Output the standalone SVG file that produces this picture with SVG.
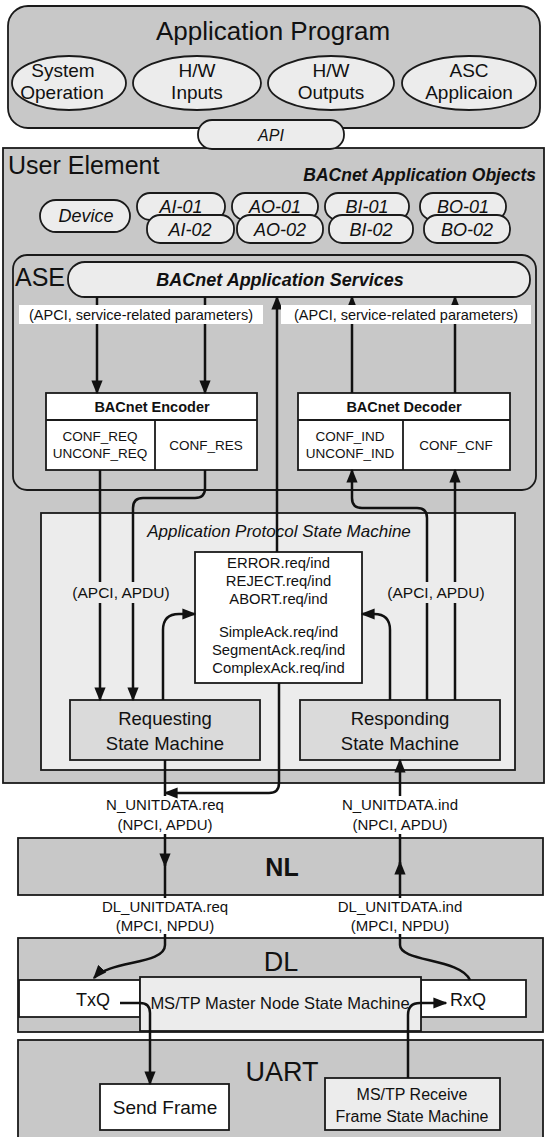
<svg xmlns="http://www.w3.org/2000/svg" width="547" height="1137" viewBox="0 0 547 1137">
<defs>
<style>
text{font-family:"Liberation Sans",Arial,sans-serif;fill:#111;text-anchor:middle}
.gray{fill:#c8c8c8;stroke:#1a1a1a;stroke-width:1.8}
.lite{fill:#ececec;stroke:#1a1a1a;stroke-width:1.8}
.sm{fill:#dadada;stroke:#1a1a1a;stroke-width:1.8}
.wht{fill:#fff;stroke:#1a1a1a;stroke-width:1.8}
.ln{fill:none;stroke:#111;stroke-width:2.5}
.arr{marker-end:url(#ah)}
.it{font-style:italic}
.bi{font-style:italic;font-weight:bold}
.b{font-weight:bold}
</style>
<marker id="ah" viewBox="0 0 10 8" refX="9" refY="4" markerWidth="5.6" markerHeight="4.5" orient="auto" markerUnits="strokeWidth">
<path d="M0,0 L10,4 L0,8 z" fill="#111"/>
</marker>
</defs>
<rect width="547" height="1137" fill="#fff"/>

<g id="app-program">
<rect class="gray" x="8" y="6" width="532" height="122" rx="20"/>
<text x="273" y="40" font-size="26">Application Program</text>
</g>
<g id="sys-op"><ellipse class="lite" cx="69" cy="83" rx="57" ry="27"/><text x="63" y="77" font-size="19">System</text><text x="62" y="99" font-size="19">Operation</text></g>
<g id="hw-in"><ellipse class="lite" cx="197" cy="83" rx="64" ry="27"/><text x="197" y="77" font-size="19">H/W</text><text x="197" y="99" font-size="19">Inputs</text></g>
<g id="hw-out"><ellipse class="lite" cx="331" cy="83" rx="63" ry="27"/><text x="331" y="77" font-size="19">H/W</text><text x="331" y="99" font-size="19">Outputs</text></g>
<g id="asc-app"><ellipse class="lite" cx="469" cy="83" rx="67" ry="27"/><text x="469" y="77" font-size="19">ASC</text><text x="469" y="99" font-size="19">Applicaion</text></g>

<g id="user-element">
<rect class="gray" x="3" y="148" width="541" height="635"/>
<text x="8" y="174" font-size="25" style="text-anchor:start">User Element</text>
<text x="536" y="181" font-size="17.5" class="bi" style="text-anchor:end">BACnet Application Objects</text>
</g>
<g id="api"><rect class="lite" x="198" y="120" width="146" height="29" rx="14"/><text x="271" y="141" font-size="16" class="it">API</text></g>

<g id="device"><rect class="lite" x="40" y="200" width="90" height="32" rx="16"/><text x="86" y="222" font-size="18" class="it">Device</text></g>
<g id="ai"><rect class="lite" x="137" y="193" width="88" height="27" rx="13"/><text x="181" y="213" font-size="18" class="it">AI-01</text><rect class="lite" x="147" y="215" width="87" height="28" rx="13"/><text x="190" y="236" font-size="18" class="it">AI-02</text></g>
<g id="ao"><rect class="lite" x="232" y="193" width="86" height="27" rx="13"/><text x="275" y="213" font-size="18" class="it">AO-01</text><rect class="lite" x="237" y="215" width="86" height="28" rx="13"/><text x="280" y="236" font-size="18" class="it">AO-02</text></g>
<g id="bi"><rect class="lite" x="325" y="193" width="84" height="27" rx="13"/><text x="367" y="213" font-size="18" class="it">BI-01</text><rect class="lite" x="329" y="215" width="84" height="28" rx="13"/><text x="371" y="236" font-size="18" class="it">BI-02</text></g>
<g id="bo"><rect class="lite" x="420" y="193" width="86" height="27" rx="13"/><text x="463" y="213" font-size="18" class="it">BO-01</text><rect class="lite" x="424" y="215" width="86" height="28" rx="13"/><text x="467" y="236" font-size="18" class="it">BO-02</text></g>

<g id="ase">
<rect class="gray" x="13" y="255" width="523" height="235" rx="14"/>
<text x="15" y="286" font-size="25" style="text-anchor:start">ASE</text>
</g>
<g id="services"><rect class="lite" x="68" y="262" width="462" height="35" rx="17"/><text x="280" y="286" font-size="18" class="bi">BACnet Application Services</text></g>

<g id="encoder">
<rect class="wht" x="46" y="393" width="211" height="77"/>
<path class="wht" d="M46 420 H257 M155 420 V470" fill="none"/>
<text x="152" y="412" font-size="14.5" class="b">BACnet Encoder</text>
<text x="100" y="441" font-size="13.5">CONF_REQ</text>
<text x="100" y="458" font-size="13.5">UNCONF_REQ</text>
<text x="206" y="450" font-size="13.5">CONF_RES</text>
</g>
<g id="decoder">
<rect class="wht" x="298" y="393" width="212" height="77"/>
<path class="wht" d="M298 420 H510 M403 420 V470" fill="none"/>
<text x="404" y="412" font-size="14.5" class="b">BACnet Decoder</text>
<text x="350" y="441" font-size="13.5">CONF_IND</text>
<text x="350" y="458" font-size="13.5">UNCONF_IND</text>
<text x="456" y="450" font-size="13.5">CONF_CNF</text>
</g>

<g id="apsm">
<rect class="lite" x="41" y="513" width="474" height="257"/>
<text x="279" y="537" font-size="17" class="it">Application Protocol State Machine</text>
</g>
<g id="pdu-box">
<rect class="wht" x="195" y="552" width="167" height="131"/>
<text x="278.5" y="568" font-size="14.8">ERROR.req/ind</text>
<text x="278.5" y="586" font-size="14.8">REJECT.req/ind</text>
<text x="278.5" y="604" font-size="14.8">ABORT.req/ind</text>
<text x="278.5" y="637" font-size="14.8">SimpleAck.req/ind</text>
<text x="278.5" y="655" font-size="14.8">SegmentAck.req/ind</text>
<text x="278.5" y="673" font-size="14.8">ComplexAck.req/ind</text>
</g>
<g id="requesting"><rect class="sm" x="70" y="700" width="190" height="60"/><text x="165" y="725" font-size="18.5">Requesting</text><text x="165" y="750" font-size="18.5">State Machine</text></g>
<g id="responding"><rect class="sm" x="300" y="700" width="200" height="60"/><text x="400" y="725" font-size="18.5">Responding</text><text x="400" y="750" font-size="18.5">State Machine</text></g>

<g id="nl"><rect class="gray" x="18" y="838" width="525" height="57"/><text x="282" y="876" font-size="25" class="b">NL</text></g>
<g id="dl"><rect class="gray" x="18" y="938" width="525" height="94"/><text x="281" y="971" font-size="27">DL</text></g>
<g id="txq"><rect class="wht" x="19" y="980" width="121" height="37"/><text x="93" y="1006" font-size="18">TxQ</text></g>
<g id="rxq"><rect class="wht" x="421" y="980" width="105" height="37"/><text x="468" y="1006" font-size="18">RxQ</text></g>
<g id="master"><rect class="lite" x="140" y="977" width="281" height="54"/><text x="280" y="1009" font-size="16.5">MS/TP Master Node State Machine</text></g>
<g id="uart"><rect class="gray" x="18" y="1040" width="525" height="105"/><text x="282" y="1081" font-size="27">UART</text></g>
<g id="send-frame"><rect class="wht" x="100" y="1084" width="129" height="46"/><text x="165" y="1114" font-size="19">Send Frame</text></g>
<g id="receive-frame"><rect class="lite" x="325" y="1078" width="175" height="52"/><text x="412" y="1100" font-size="16">MS/TP Receive</text><text x="412" y="1122" font-size="16">Frame State Machine</text></g>

<g id="connectors">
<path class="ln arr" d="M97 297 V393"/>
<path class="ln arr" d="M205 297 V393"/>
<path class="ln arr" d="M277 552 V297"/>
<path class="ln arr" d="M352 393 V297"/>
<path class="ln arr" d="M455 393 V297"/>
<path class="ln arr" d="M100 470 V700"/>
<path class="ln arr" d="M205 470 V488 Q205 498 195 498 H143 Q133 498 133 508 V700"/>
<path class="ln arr" d="M427 700 V518 Q427 508 417 508 H362 Q352 508 352 498 V470"/>
<path class="ln arr" d="M455 700 V470"/>
<path class="ln arr" d="M163 700 V630 Q163 614 179 614 H195"/>
<path class="ln arr" d="M390 700 V630 Q390 614 374 614 H362"/>
<path class="ln arr" d="M279 683 V783 Q279 793 269 793 H165"/>
<path class="ln" d="M165 760 V796"/>
<path class="ln arr" d="M400 796 V760"/>
<path class="ln arr" d="M165 834 V866"/>
<path class="ln" d="M165 864 V898"/>
<path class="ln arr" d="M400 898 V862"/>
<path class="ln" d="M400 864 V834"/>
<path class="ln arr" d="M165 934 V945 C165 965 110 960 94 978"/>
<path class="ln" d="M400 934 V945 C400 962 460 958 470 980"/>
<path class="ln arr" d="M120 1003 H140 Q150 1003 150 1013 V1084"/>
<path class="ln arr" d="M408 1078 V1015 Q408 1003 420 1003 H446"/>
</g>

<g id="param-label-left"><rect x="19" y="305" width="244" height="19" fill="#fff"/><text x="141" y="320" font-size="14.5">(APCI, service-related parameters)</text></g>
<g id="param-label-right"><rect x="281" y="305" width="250" height="19" fill="#fff"/><text x="406" y="320" font-size="14.5">(APCI, service-related parameters)</text></g>
<g id="apdu-label-left"><rect x="68" y="582" width="106" height="21" fill="#ececec"/><text x="121" y="598" font-size="15.5">(APCI, APDU)</text></g>
<g id="apdu-label-right"><rect x="383" y="582" width="106" height="21" fill="#ececec"/><text x="436" y="598" font-size="15.5">(APCI, APDU)</text></g>
<g id="n-req-label"><text x="165" y="810" font-size="15">N_UNITDATA.req</text><text x="165" y="830" font-size="15">(NPCI, APDU)</text></g>
<g id="n-ind-label"><text x="400" y="810" font-size="15">N_UNITDATA.ind</text><text x="400" y="830" font-size="15">(NPCI, APDU)</text></g>
<g id="dl-req-label"><text x="165" y="912" font-size="15">DL_UNITDATA.req</text><text x="165" y="931" font-size="15">(MPCI, NPDU)</text></g>
<g id="dl-ind-label"><text x="400" y="912" font-size="15">DL_UNITDATA.ind</text><text x="400" y="931" font-size="15">(MPCI, NPDU)</text></g>
</svg>
